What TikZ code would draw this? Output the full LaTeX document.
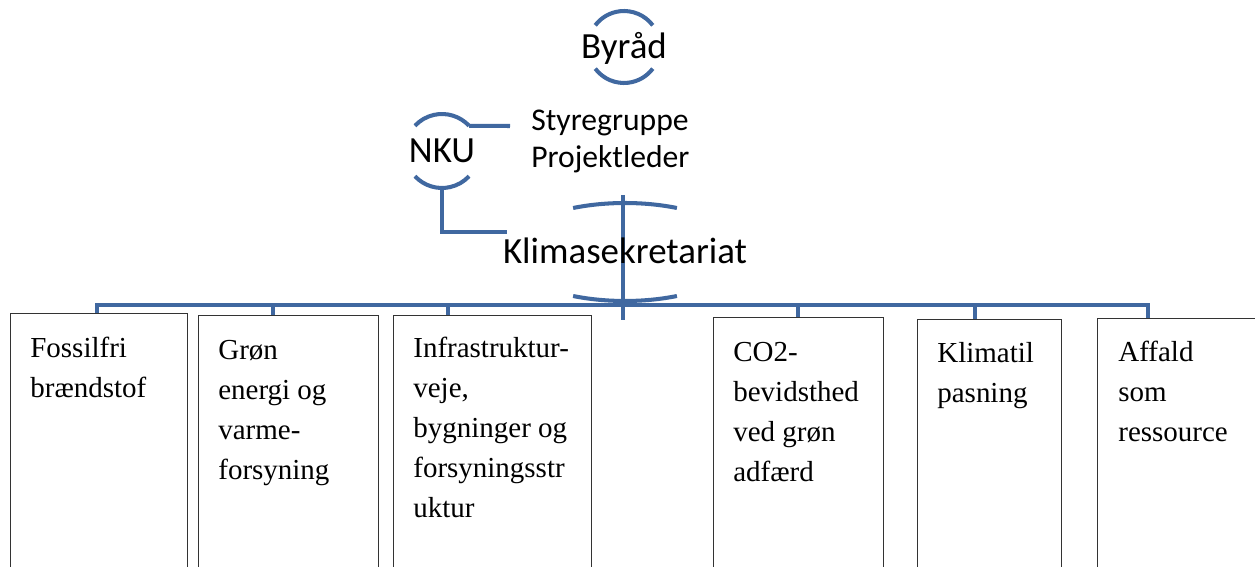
\documentclass[tikz,border=0pt]{standalone}
\usepackage{fontspec}
\setmainfont{Liberation Serif}
\newfontfamily\calibri{Carlito}
\usetikzlibrary{positioning,backgrounds}
\definecolor{orgBlue}{RGB}{64,104,160}
\tikzstyle{orgLine}=[draw = orgBlue, line width = 2.3pt]
\tikzstyle{headText}=[inner sep = 0pt, text height = 13.3pt, text depth = 0pt, font = \calibri\fontsize{21}{24}\selectfont]
\tikzstyle{taskBox}=[shape = rectangle, draw = black!80, line width = 0.8pt, anchor = north west, minimum height = 6cm, inner sep = 0pt]
\tikzstyle{taskText}=[anchor = base west, inner sep = 0pt]
\newcommand{\boxlines}[1]{\parbox[t]{4.6cm}{\raggedright\fontsize{16.5}{22.7}\selectfont #1}}
\newcommand{\leadlines}[1]{\parbox[t]{4.6cm}{\raggedright\calibri\fontsize{18}{21}\selectfont #1}}

\begin{document}
\begin{tikzpicture}[x = 0.02cm, y = 0.02cm]
\clip (0,0) rectangle (1255,-567);
\node[headText] (byrad) at (624,-47) {Byråd};
\node[headText] (nku) at (442,-151) {NKU};
\node[headText] (klima) at (625,-252) {Klimasekretariat};
\node[taskText] (styr) at (531,-131) {\leadlines{Styregruppe\\Projektleder}};
\coordinate (styEnd) at (510,-126);
\coordinate (nkuEnd) at (507,-232);
\coordinate (klTop) at (623,-195);
\coordinate (klBot) at (623,-320);
\draw[orgLine] ([shift={(37:0.72cm)}]byrad.center) arc[start angle = 37, end angle = 143, radius = 0.72cm];
\draw[orgLine] ([shift={(217:0.72cm)}]byrad.center) arc[start angle = 217, end angle = 323, radius = 0.72cm];
\draw[orgLine] ([shift={(43:0.74cm)}]nku.center) arc[start angle = 43, end angle = 137, radius = 0.74cm];
\draw[orgLine] ([shift={(223:0.74cm)}]nku.center) arc[start angle = 223, end angle = 317, radius = 0.74cm];
\draw[orgLine] ([shift={(63.9:2.36cm and 0.98cm)}]klima.center) arc[start angle = 63.9, end angle = 116.1, x radius = 2.36cm, y radius = 0.98cm];
\draw[orgLine] ([shift={(243.9:2.36cm and 0.98cm)}]klima.center) arc[start angle = 243.9, end angle = 296.1, x radius = 2.36cm, y radius = 0.98cm];
\draw[orgLine] ([shift={(43:0.74cm)}]nku.center) -- (styEnd);
\draw[orgLine] ([yshift = -0.74cm]nku.center) |- (nkuEnd);
\begin{scope}[on background layer]
\draw[orgLine] (klTop) -- (klBot);
\end{scope}
% task boxes
\node[taskBox, minimum width = 3.54cm] (b1) at (10,-313) {};
\node[taskBox, minimum width = 3.60cm] (b2) at (198,-315) {};
\node[taskBox, minimum width = 3.96cm] (b3) at (393,-315) {};
\node[taskBox, minimum width = 3.40cm] (b4) at (713,-317) {};
\node[taskBox, minimum width = 2.88cm] (b5) at (917,-319) {};
\node[taskBox, minimum width = 4.00cm] (b6) at (1097,-318) {};
\node[taskText] (t1) at (30,-358) {\boxlines{Fossilfri\\brændstof}};
\node[taskText] (t2) at (218,-360) {\boxlines{Grøn\\energi og\\varme-\\forsyning}};
\node[taskText] (t3) at (413,-358) {\boxlines{Infrastruktur-\\veje,\\bygninger og\\forsyningsstr\\uktur}};
\node[taskText] (t4) at (733,-362) {\boxlines{CO2-\\bevidsthed\\ved grøn\\adfærd}};
\node[taskText] (t5) at (937,-363) {\boxlines{Klimatil\\pasning}};
\node[taskText] (t6) at (1118,-362) {\boxlines{Affald\\som\\ressource}};
% bus
\coordinate (s1) at (97,-305);
\coordinate (s2) at (273,-305);
\coordinate (s3) at (448,-305);
\coordinate (s4) at (798,-305);
\coordinate (s5) at (975,-305);
\coordinate (s6) at (1148,-305);
\draw[orgLine] (s1 |- b1.north) -- (s1) -- (s6) -- (s6 |- b6.north);
\draw[orgLine] (s2) -- (s2 |- b2.north);
\draw[orgLine] (s3) -- (s3 |- b3.north);
\draw[orgLine] (s4) -- (s4 |- b4.north);
\draw[orgLine] (s5) -- (s5 |- b5.north);
\end{tikzpicture}
\end{document}
